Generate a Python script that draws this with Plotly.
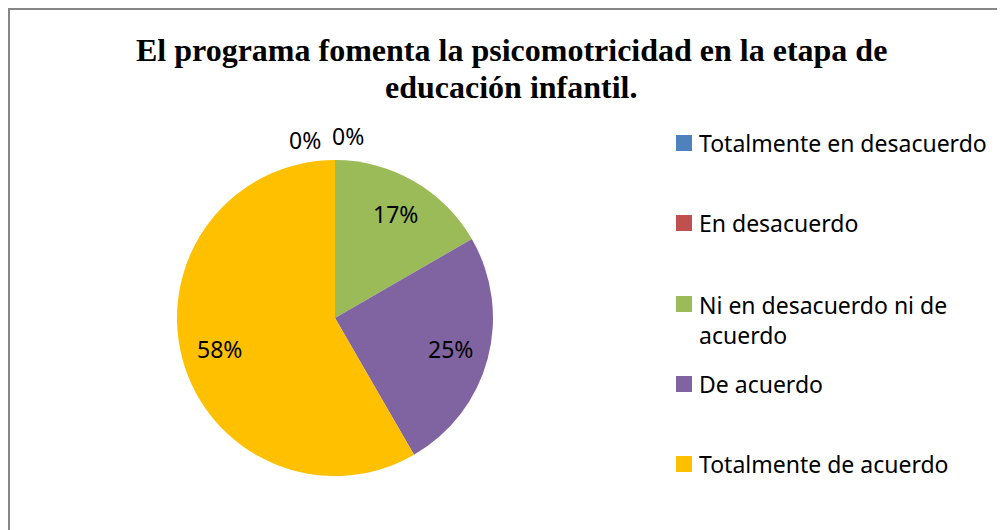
import math
import plotly.graph_objects as go

# page is shown with the default 8px body margin, so the figure is sized
# to what is left of the 1005x530 window and screen pixels are mapped to paper
OFF = 8
W, H = 1005 - OFF, 530 - OFF

categories = ["Totalmente en desacuerdo", "En desacuerdo",
              "Ni en desacuerdo ni de acuerdo", "De acuerdo",
              "Totalmente de acuerdo"]
legend_labels = ["Totalmente en desacuerdo", "En desacuerdo",
                 "Ni en desacuerdo ni de<br>acuerdo", "De acuerdo",
                 "Totalmente de acuerdo"]
counts = [0, 0, 2, 3, 7]
colors = ["#4F81BD", "#C0504D", "#9BBB59", "#8064A2", "#FFC000"]

title_lines = ["El programa fomenta la psicomotricidad en la etapa de",
               "educación infantil."]

FONT = "Noto Sans"


def px(x):
    return (x - OFF) / W


def py(y):
    return 1 - (y - OFF) / H


def label(x, y, text, size=23, family=FONT, xanchor="center"):
    fig.add_annotation(x=px(x), y=py(y), xref="paper", yref="paper",
                       text=text, showarrow=False,
                       xanchor=xanchor, yanchor="middle", align="left",
                       font=dict(family=family, size=size, color="black"))


cx, cy, R = 335, 318, 158

fig = go.Figure(go.Pie(
    labels=categories,
    values=counts,
    textinfo="none",
    sort=False,
    direction="clockwise",
    rotation=0,
    marker=dict(colors=colors, line=dict(width=0)),
    domain=dict(x=[px(cx - R), px(cx + R)], y=[py(cy + R), py(cy - R)]),
    showlegend=False,
    hoverinfo="label+percent",
))

# data labels, Excel-style (horizontal, about 3/4 of the radius out)
total = sum(counts)
zero_pos = [(348, 136), (305, 140)]
k = 0
cum = 0
for c in counts:
    t = f"{round(100 * c / total)}%"
    if c == 0:
        x, y = zero_pos[k]
        k += 1
    else:
        a = 2 * math.pi * (cum + c / 2) / total
        x = cx + 0.76 * R * math.sin(a)
        y = cy - 0.76 * R * math.cos(a)
    cum += c
    label(x, y, t)

# legend drawn by hand (Excel-like spacing)
leg_y = [143, 223, 304, 384, 464]
for lab, col, y in zip(legend_labels, colors, leg_y):
    fig.add_shape(type="rect", xref="paper", yref="paper",
                  x0=px(676), x1=px(692), y0=py(y + 8), y1=py(y - 8),
                  fillcolor=col, line=dict(width=0))
    nlines = lab.count("<br>") + 1
    label(697, y + (nlines - 1) * 16, lab, xanchor="left")

# outer chart border (right and bottom edges fall outside the picture)
fig.add_shape(type="rect", xref="paper", yref="paper",
              x0=px(9), x1=px(1020), y0=py(545), y1=py(9),
              line=dict(color="#878787", width=2), fillcolor="rgba(0,0,0,0)")

for line, y in zip(title_lines, [50, 87]):
    label(511, y, "<b>" + line + "</b>", size=32, family="Liberation Serif")

fig.update_layout(
    width=W, height=H,
    margin=dict(l=0, r=0, t=0, b=0),
    paper_bgcolor="white",
    plot_bgcolor="white",
)

fig.write_html("out.html")
